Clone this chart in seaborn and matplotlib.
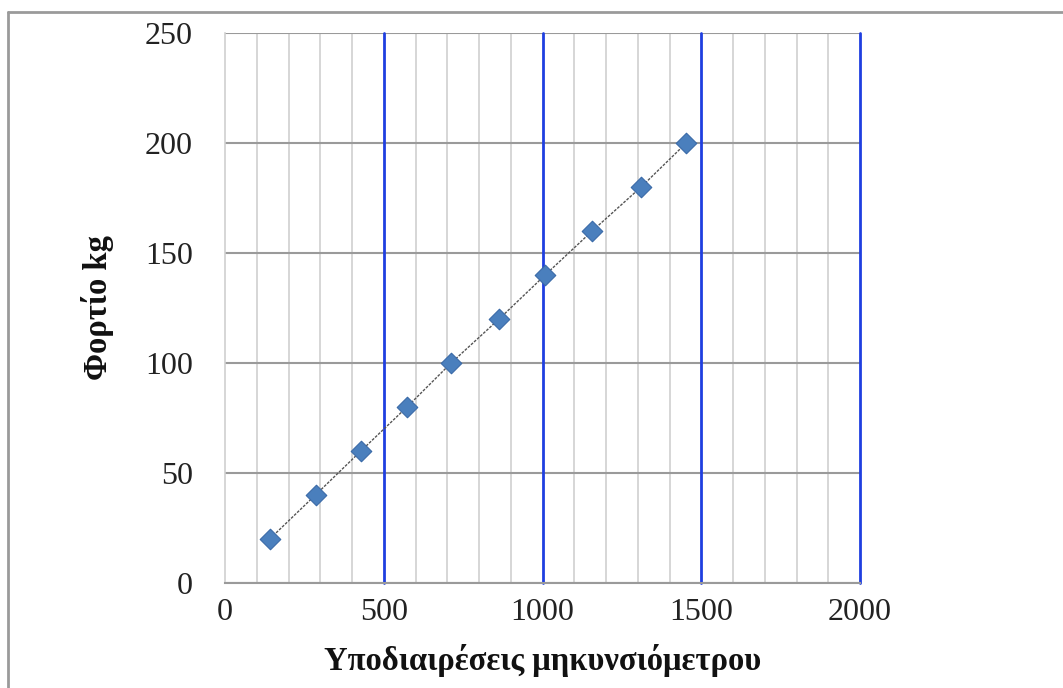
import matplotlib
matplotlib.use("Agg")
import matplotlib.pyplot as plt
import seaborn as sns
import pandas as pd
from matplotlib.lines import Line2D
from matplotlib.ticker import MultipleLocator

# Data
divisions = [142, 286, 429, 574, 713, 864, 1009, 1157, 1311, 1453]
load_kg = [20, 40, 60, 80, 100, 120, 140, 160, 180, 200]
x_ticks = [0, 500, 1000, 1500, 2000]
y_ticks = [0, 50, 100, 150, 200, 250]
x_label = "Υποδιαιρέσεις μηκυνσιόμετρου"
y_label = "Φορτίο kg"

df = pd.DataFrame({"x": divisions, "y": load_kg})

sns.set_theme(style="white")
plt.rcParams["font.family"] = ["Liberation Serif", "DejaVu Serif"]

fig = plt.figure(figsize=(10.63, 6.88), dpi=100)
ax = fig.add_axes([225 / 1063, 1 - 582.6 / 688, (860 - 225) / 1063, (582.6 - 33) / 688])

# Grid
ax.set_xlim(0, 2000)
ax.set_ylim(0, 250)
ax.xaxis.set_minor_locator(MultipleLocator(100))
ax.set_xticks(x_ticks)
ax.set_yticks(y_ticks)
ax.grid(which="minor", axis="x", color="#cfcfcf", linewidth=1.2)
ax.grid(which="major", axis="y", color="#9a9a9a", linewidth=1.5)
for xv in x_ticks[1:]:
    ax.axvline(xv, color="#1f3fe0", linewidth=2.0, zorder=1.5, clip_on=False)
ax.set_axisbelow(True)

sns.lineplot(data=df, x="x", y="y", ax=ax, color="#555555", linewidth=1.0,
             linestyle=(0, (2, 1)), zorder=3)
sns.scatterplot(data=df, x="x", y="y", ax=ax, marker="D", s=110,
                color="#4a7fbd", edgecolor="#3a6aa8", linewidth=0.8, zorder=4)

for side in ["top", "right"]:
    ax.spines[side].set_visible(False)
ax.spines["bottom"].set_color("#9a9a9a")
ax.spines["bottom"].set_linewidth(1.5)
ax.spines["left"].set_color("#d0d0d0")
ax.spines["left"].set_linewidth(1.2)

ax.tick_params(axis="both", which="major", labelsize=23, colors="#222222",
               length=9, width=1.2, direction="out")
ax.tick_params(axis="x", which="major", color="#aaaaaa", pad=2)
ax.tick_params(axis="y", which="major", color="#aaaaaa", pad=14)
ax.tick_params(axis="x", which="minor", length=0)

ax.set_xlabel(x_label, fontsize=23.5, fontweight="bold", labelpad=12, color="#111111")
ax.set_ylabel(y_label, fontsize=23.5, fontweight="bold", labelpad=22, color="#111111")

# Outer frame
fig.add_artist(Line2D([8 / 1063, 8 / 1063], [0, 1 - 12 / 688],
                      transform=fig.transFigure, color="#9a9a9a", linewidth=2))
fig.add_artist(Line2D([8 / 1063, 1], [1 - 12 / 688, 1 - 12 / 688],
                      transform=fig.transFigure, color="#9a9a9a", linewidth=2))

fig.savefig("out.png", dpi=100)
